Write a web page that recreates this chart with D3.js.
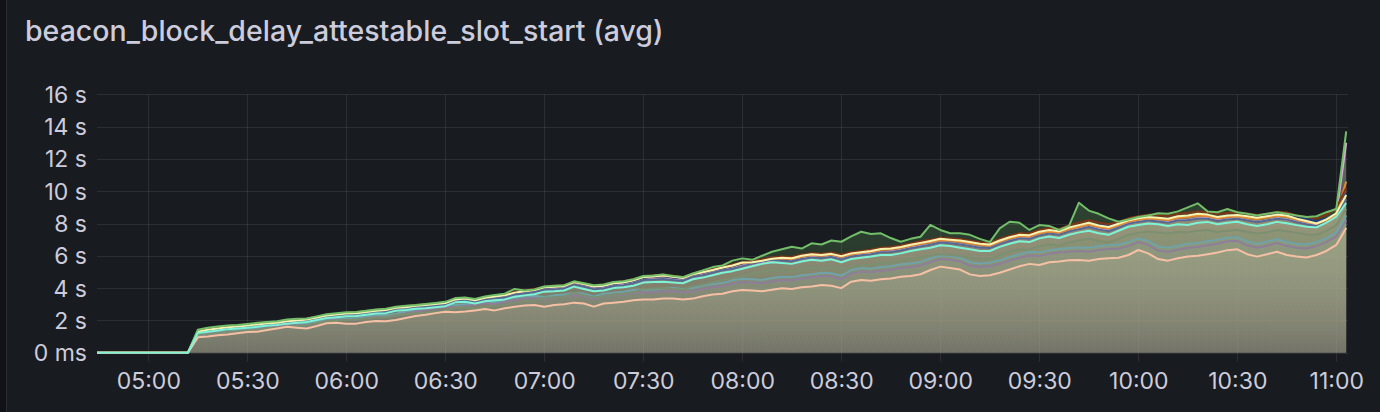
<!DOCTYPE html>
<html><head><meta charset="utf-8">
<script src="https://cdn.jsdelivr.net/npm/d3@7"></script>
<style>
html,body{margin:0;padding:0;background:#111217;}
svg{display:block;}
</style></head>
<body>
<svg id="chart" width="1380" height="412"></svg>
<script>
// ---------------- DATA ----------------
const chartTitle = "beacon_block_delay_attestable_slot_start (avg)";
const startTime = "04:42";   // first sample (UTC, HH:MM)
const stepMinutes = 3;       // sampling step
const yTickValues = [0, 2, 4, 6, 8, 10, 12, 14, 16];
const xTickLabels = ["05:00","05:30","06:00","06:30","07:00","07:30","08:00","08:30","09:00","09:30","10:00","10:30","11:00"];

const mauve = [0,0,0,0,0,0,0,0,0,0,0,
1.05,1.12,1.2,1.25,1.35,1.42,1.45,1.55,1.65,1.75,
1.72,1.68,1.82,2.0,2.05,2.02,2.05,2.15,2.22,2.2,
2.3,2.42,2.55,2.65,2.75,2.85,2.82,2.9,2.98,3.08,
3.0,3.15,3.25,3.32,3.38,3.3,3.4,3.45,3.55,3.5,
3.3,3.48,3.55,3.6,3.7,3.75,3.72,3.8,3.82,3.75,
3.8,3.95,4.05,4.12,4.28,4.38,4.35,4.3,4.42,4.5,
4.48,4.6,4.65,4.75,4.72,4.55,4.9,5.02,4.98,5.08,
5.12,5.25,5.3,5.4,5.62,5.8,5.75,5.65,5.38,5.3,
5.35,5.5,5.7,5.88,6.02,5.98,6.12,6.2,6.25,6.3,
6.25,6.35,6.42,6.45,6.6,6.85,6.68,6.32,6.25,6.38,
6.5,6.55,6.65,6.75,6.9,6.92,6.65,6.5,6.62,6.8,
6.6,6.5,6.45,6.6,6.85,7.2,8.2];

const teal = [0,0,0,0,0,0,0,0,0,0,0,
1.1,1.2,1.28,1.32,1.42,1.5,1.55,1.65,1.75,1.85,
1.82,1.78,1.92,2.1,2.15,2.12,2.15,2.25,2.32,2.32,
2.42,2.55,2.68,2.78,2.88,2.98,2.95,3.02,3.1,3.2,
3.12,3.28,3.4,3.48,3.52,3.45,3.55,3.6,3.7,3.66,
3.48,3.65,3.72,3.78,3.88,3.92,3.9,3.98,4.0,3.95,
4.0,4.15,4.25,4.32,4.48,4.58,4.55,4.5,4.62,4.7,
4.68,4.8,4.85,4.95,4.92,4.78,5.12,5.25,5.2,5.3,
5.35,5.48,5.52,5.62,5.85,6.02,5.98,5.88,5.6,5.52,
5.58,5.72,5.92,6.1,6.25,6.2,6.35,6.42,6.48,6.52,
6.5,6.6,6.65,6.7,6.85,7.08,6.92,6.58,6.5,6.62,
6.75,6.8,6.9,7.0,7.12,7.15,6.9,6.75,6.88,7.02,
6.85,6.75,6.7,6.85,7.1,7.45,8.5];

const grayGreen = [0,0,0,0,0,0,0,0,0,0,0,
1.1,1.15,1.22,1.28,1.32,1.38,1.42,1.5,1.55,1.62,
1.66,1.7,1.82,1.95,1.98,2.02,2.05,2.12,2.18,2.2,
2.32,2.38,2.45,2.48,2.52,2.58,2.8,2.82,2.72,2.85,
2.9,2.95,3.1,3.2,3.25,3.4,3.42,3.45,3.7,3.55,
3.42,3.48,3.6,3.65,3.75,3.95,3.98,4.0,3.95,3.9,
4.12,4.22,4.38,4.5,4.62,4.75,4.9,5.02,5.12,5.08,
5.02,5.18,5.28,5.22,5.3,5.12,5.32,5.4,5.45,5.55,
5.58,5.68,5.8,5.92,6.0,6.1,6.05,5.98,5.9,5.8,
5.8,6.05,6.25,6.4,6.38,6.6,6.72,6.62,6.82,6.95,
7.05,6.92,6.82,7.05,7.3,7.42,7.5,7.45,7.38,7.48,
7.45,7.55,7.6,7.48,7.55,7.6,7.48,7.38,7.45,7.6,
7.52,7.42,7.32,7.3,7.55,7.9,8.9];

const pink = [0,0,0,0,0,0,0,0,0,0,0,
1.26,1.37,1.45,1.52,1.57,1.62,1.68,1.76,1.8,1.88,
1.94,1.98,2.1,2.24,2.29,2.35,2.38,2.45,2.53,2.56,
2.7,2.75,2.82,2.86,2.93,2.99,3.22,3.26,3.17,3.3,
3.38,3.44,3.6,3.68,3.76,3.92,3.95,4.0,4.25,4.1,
3.96,4.0,4.16,4.2,4.32,4.52,4.56,4.6,4.53,4.48,
4.72,4.82,4.98,5.12,5.22,5.38,5.5,5.62,5.72,5.72,
5.68,5.82,5.92,5.88,5.95,5.8,5.98,6.06,6.12,6.24,
6.26,6.36,6.5,6.6,6.7,6.84,6.8,6.72,6.62,6.52,
6.5,6.74,6.94,7.1,7.08,7.28,7.4,7.32,7.52,7.68,
7.8,7.65,7.55,7.76,8.0,8.12,8.2,8.14,8.08,8.2,
8.22,8.32,8.32,8.18,8.27,8.32,8.2,8.1,8.2,8.32,
8.26,8.1,7.98,7.9,8.15,8.55,13.0];

const navy = [0,0,0,0,0,0,0,0,0,0,0,
1.28,1.4,1.48,1.56,1.6,1.66,1.72,1.8,1.84,1.92,
1.98,2.02,2.15,2.27,2.33,2.4,2.42,2.5,2.57,2.61,
2.75,2.8,2.87,2.92,2.99,3.05,3.27,3.32,3.22,3.37,
3.45,3.52,3.68,3.77,3.85,4.02,4.05,4.1,4.34,4.22,
4.08,4.12,4.27,4.32,4.45,4.64,4.7,4.75,4.66,4.6,
4.82,4.95,5.1,5.25,5.38,5.55,5.58,5.68,5.8,5.86,
5.82,5.97,6.07,6.02,6.1,5.95,6.12,6.2,6.28,6.4,
6.42,6.52,6.65,6.78,6.9,7.02,6.98,6.92,6.82,6.72,
6.68,6.92,7.12,7.28,7.25,7.46,7.58,7.5,7.72,7.88,
8.02,7.92,7.86,8.02,8.22,8.3,8.38,8.32,8.28,8.42,
8.48,8.58,8.52,8.38,8.48,8.5,8.42,8.36,8.48,8.6,
8.58,8.45,8.3,8.15,8.3,8.6,9.9];

const slate = [0,0,0,0,0,0,0,0,0,0,0,
1.25,1.35,1.42,1.5,1.55,1.6,1.66,1.74,1.78,1.86,
1.92,1.96,2.08,2.22,2.27,2.32,2.35,2.42,2.5,2.53,
2.68,2.72,2.8,2.84,2.9,2.96,3.2,3.24,3.14,3.28,
3.35,3.4,3.58,3.66,3.74,3.9,3.92,3.97,4.22,4.08,
3.93,3.98,4.13,4.18,4.3,4.5,4.53,4.57,4.5,4.45,
4.7,4.8,4.95,5.1,5.2,5.36,5.5,5.65,5.75,5.7,
5.66,5.8,5.9,5.86,5.93,5.78,5.96,6.04,6.1,6.22,
6.24,6.33,6.47,6.58,6.68,6.82,6.78,6.7,6.6,6.5,
6.48,6.72,6.92,7.08,7.05,7.26,7.38,7.3,7.5,7.65,
7.78,7.62,7.52,7.74,7.98,8.1,8.18,8.12,8.05,8.18,
8.2,8.3,8.3,8.15,8.25,8.3,8.18,8.08,8.18,8.3,
8.24,8.08,7.95,7.85,8.12,8.5,9.5];

const orange = [0,0,0,0,0,0,0,0,0,0,0,
1.34,1.47,1.56,1.64,1.68,1.74,1.8,1.86,1.9,2.0,
2.05,2.1,2.2,2.34,2.4,2.46,2.5,2.56,2.64,2.68,
2.8,2.86,2.93,2.98,3.05,3.1,3.32,3.37,3.28,3.42,
3.5,3.58,3.74,3.82,3.9,4.06,4.1,4.14,4.36,4.26,
4.12,4.17,4.32,4.38,4.5,4.68,4.74,4.8,4.72,4.64,
4.86,4.98,5.12,5.28,5.4,5.56,5.6,5.72,5.84,5.84,
5.8,5.95,6.05,6.0,6.08,5.94,6.1,6.18,6.25,6.38,
6.4,6.5,6.62,6.74,6.86,6.98,6.94,6.88,6.78,6.68,
6.64,6.88,7.08,7.22,7.2,7.4,7.5,7.44,7.66,7.8,
7.95,7.8,7.7,7.9,8.12,8.24,8.32,8.28,8.22,8.36,
8.4,8.5,8.46,8.32,8.42,8.45,8.36,8.28,8.38,8.48,
8.42,8.24,8.1,7.98,8.2,8.55,10.6];

const brown = [0,0,0,0,0,0,0,0,0,0,0,
1.32,1.45,1.55,1.62,1.66,1.72,1.8,1.88,1.92,2.0,
2.05,2.1,2.22,2.34,2.4,2.46,2.5,2.58,2.66,2.7,
2.82,2.88,2.95,3.0,3.06,3.12,3.35,3.4,3.3,3.45,
3.52,3.6,3.76,3.86,3.94,4.1,4.14,4.18,4.4,4.3,
4.16,4.22,4.36,4.42,4.55,4.72,4.78,4.84,4.76,4.68,
4.9,5.04,5.18,5.34,5.46,5.62,5.66,5.78,5.9,5.96,
5.92,6.08,6.16,6.12,6.2,6.06,6.22,6.3,6.38,6.5,
6.54,6.64,6.76,6.9,7.0,7.12,7.08,7.04,6.94,6.84,
6.8,7.04,7.24,7.4,7.38,7.6,7.72,7.66,7.9,8.05,
8.2,8.05,7.95,8.1,8.32,8.45,8.55,8.5,8.45,8.6,
8.65,8.75,8.7,8.58,8.66,8.7,8.62,8.52,8.6,8.72,
8.68,8.5,8.4,8.3,8.55,8.96,10.2];

const yellow = [0,0,0,0,0,0,0,0,0,0,0,
1.3,1.42,1.5,1.58,1.62,1.68,1.75,1.82,1.86,1.95,
2.0,2.05,2.18,2.3,2.36,2.42,2.45,2.52,2.6,2.64,
2.78,2.82,2.9,2.95,3.02,3.08,3.3,3.35,3.25,3.4,
3.48,3.55,3.72,3.8,3.88,4.05,4.08,4.12,4.38,4.25,
4.1,4.15,4.3,4.35,4.48,4.68,4.72,4.78,4.7,4.62,
4.85,4.98,5.12,5.28,5.4,5.58,5.6,5.7,5.82,5.88,
5.85,6.0,6.1,6.05,6.12,5.98,6.15,6.22,6.3,6.42,
6.45,6.55,6.68,6.8,6.92,7.05,7.0,6.95,6.85,6.75,
6.7,6.95,7.15,7.3,7.28,7.49,7.6,7.52,7.75,7.9,
8.05,7.88,7.78,7.98,8.2,8.32,8.4,8.35,8.3,8.45,
8.5,8.6,8.55,8.4,8.5,8.53,8.45,8.35,8.45,8.55,
8.5,8.3,8.15,8.0,8.25,8.63,9.77];

const green = [0,0,0,0,0,0,0,0,0,0,0,
1.42,1.55,1.62,1.68,1.72,1.78,1.85,1.9,1.95,2.05,
2.1,2.12,2.25,2.38,2.45,2.5,2.52,2.6,2.68,2.72,
2.85,2.9,2.95,3.02,3.08,3.15,3.38,3.42,3.32,3.48,
3.58,3.65,3.95,3.85,3.92,4.1,4.15,4.18,4.42,4.3,
4.18,4.22,4.38,4.42,4.55,4.75,4.78,4.85,4.75,4.68,
4.9,5.1,5.3,5.4,5.7,5.84,5.75,6.0,6.25,6.4,
6.56,6.45,6.77,6.7,6.95,6.87,7.2,7.49,7.35,7.39,
7.1,6.87,7.05,7.18,7.91,7.6,7.4,7.39,7.3,7.05,
6.85,7.7,8.11,8.05,7.6,7.9,7.85,7.6,7.85,9.29,
8.8,8.6,8.32,8.11,8.25,8.4,8.5,8.63,8.6,8.75,
9.0,9.25,8.75,8.7,8.9,8.7,8.6,8.5,8.6,8.7,
8.6,8.5,8.4,8.45,8.7,8.9,13.7];

const peach = [0,0,0,0,0,0,0,0,0,0,0,
0.95,1.0,1.08,1.12,1.2,1.28,1.3,1.4,1.5,1.6,
1.55,1.5,1.65,1.82,1.85,1.8,1.8,1.9,1.96,1.95,
2.02,2.15,2.27,2.35,2.45,2.54,2.5,2.55,2.62,2.7,
2.62,2.75,2.85,2.92,2.95,2.85,2.95,3.0,3.1,3.05,
2.85,3.05,3.1,3.15,3.25,3.3,3.3,3.35,3.35,3.3,
3.35,3.5,3.6,3.65,3.8,3.88,3.85,3.8,3.9,3.99,
3.95,4.05,4.1,4.19,4.15,4.0,4.4,4.5,4.45,4.55,
4.6,4.7,4.75,4.86,5.12,5.33,5.25,5.15,4.85,4.75,
4.8,4.95,5.15,5.35,5.5,5.43,5.6,5.65,5.72,5.74,
5.7,5.8,5.85,5.88,6.05,6.36,6.15,5.8,5.7,5.85,
5.95,6.0,6.1,6.2,6.35,6.4,6.1,5.95,6.1,6.25,
6.05,5.95,5.9,6.05,6.3,6.67,7.72];

const mint = [0,0,0,0,0,0,0,0,0,0,0,
1.22,1.3,1.38,1.45,1.5,1.55,1.6,1.68,1.72,1.8,
1.85,1.9,2.02,2.15,2.2,2.25,2.27,2.35,2.42,2.45,
2.6,2.65,2.72,2.75,2.82,2.88,3.12,3.15,3.05,3.18,
3.25,3.3,3.47,3.55,3.62,3.78,3.8,3.85,4.09,3.95,
3.8,3.85,4.0,4.05,4.15,4.34,4.38,4.4,4.35,4.3,
4.55,4.65,4.8,4.95,5.05,5.2,5.35,5.5,5.6,5.55,
5.5,5.65,5.75,5.7,5.78,5.6,5.8,5.88,5.95,6.05,
6.05,6.15,6.3,6.4,6.5,6.65,6.6,6.5,6.4,6.3,
6.3,6.55,6.75,6.9,6.85,7.08,7.2,7.1,7.3,7.45,
7.55,7.4,7.3,7.55,7.8,7.91,8.0,7.95,7.85,7.95,
7.91,8.05,8.1,7.95,8.05,8.11,7.95,7.85,7.95,8.1,
8.01,7.9,7.8,7.76,8.05,8.42,9.27];

// series + colours; lines drawn in this order (later = on top)
const seriesValues = [mauve, teal, grayGreen, pink, navy, slate, orange, brown, yellow, green, peach, mint];
const seriesColors = ["#8e7e9a", "#6fa3a8", "#7c8f70", "#e3a6e4", "#23407e", "#55698f", "#e8892e", "#7e3516", "#f6f2b0", "#73bf69", "#f6c0a4", "#7ff3d6"];
// order in which the translucent fills are stacked (indices into seriesValues)
const fillOrder = [11, 4, 7, 5, 1, 6, 3, 10, 0, 8, 2, 9];

// ---------------- CHART ----------------
const W = 1380, H = 412;
const svg = d3.select("#chart");
const bg = "#181b1f", textCol = "#ccccdc";

svg.append("rect").attr("x", 0).attr("y", 0).attr("width", W).attr("height", H).attr("fill", "#111217");
svg.append("rect").attr("x", 7).attr("y", 0).attr("width", W - 7).attr("height", H).attr("fill", bg);
svg.append("line").attr("x1", 6.5).attr("x2", 6.5).attr("y1", 0).attr("y2", H)
  .attr("stroke", "rgba(204,204,220,0.15)").attr("stroke-width", 1);

const parse = d3.utcParse("%Y-%m-%d %H:%M");
const t0 = parse("2024-01-01 " + startTime);
const times = mint.map((_, i) => d3.utcMinute.offset(t0, i * stepMinutes));

const plotL = 97, plotR = 1348, plotT = 94.3, plotB = 352.7;
const domStart = d3.utcSecond.offset(parse("2024-01-01 05:00"), -933);
const domEnd = d3.utcSecond.offset(parse("2024-01-01 11:00"), 213);
const x = d3.scaleUtc().domain([domStart, domEnd]).range([plotL, plotR]);
const y = d3.scaleLinear().domain([0, 16]).range([plotB, plotT]);

const fontFam = "Inter, 'Noto Sans', sans-serif";

// title
svg.append("text").attr("x", 25).attr("y", 41)
  .attr("fill", textCol).attr("font-family", fontFam).attr("font-size", 28.5).attr("font-weight", 500)
  .text(chartTitle);

// grid
const gridCol = "rgba(204,204,220,0.11)";
const xTickDates = xTickLabels.map(s => parse("2024-01-01 " + s));
const gx = svg.append("g");
gx.selectAll("line.v").data(xTickDates).join("line")
  .attr("x1", d => Math.round(x(d)) + 0.5).attr("x2", d => Math.round(x(d)) + 0.5)
  .attr("y1", plotT).attr("y2", plotB + 9)
  .attr("stroke", gridCol).attr("stroke-width", 1);
gx.selectAll("line.h").data(yTickValues).join("line")
  .attr("x1", plotL).attr("x2", plotR)
  .attr("y1", d => Math.round(y(d)) + 0.5).attr("y2", d => Math.round(y(d)) + 0.5)
  .attr("stroke", gridCol).attr("stroke-width", 1);

const yAxis = d3.axisLeft(y).tickValues(yTickValues).tickSize(0).tickPadding(0)
  .tickFormat(v => v === 0 ? "0 ms" : v + " s");
const ya = svg.append("g").attr("transform", `translate(${plotL - 10},0)`).call(yAxis);
ya.select(".domain").remove();
ya.selectAll("text").attr("fill", textCol).attr("font-family", fontFam).attr("font-size", 23).attr("dy", "0.35em");

const xFmt = d3.utcFormat("%H:%M");
const xAxis = d3.axisBottom(x).tickValues(xTickDates).tickSize(0).tickPadding(0).tickFormat(xFmt);
const xa = svg.append("g").attr("transform", `translate(0,${plotB + 28})`).call(xAxis);
xa.select(".domain").remove();
xa.selectAll("text").attr("fill", textCol).attr("font-family", fontFam).attr("font-size", 23).attr("dy", "0.35em");

// gradients for fills (more opaque towards the top of the plot)
const defs = svg.append("defs");
seriesColors.forEach((c, i) => {
  const g = defs.append("linearGradient").attr("id", "fillGrad" + i)
    .attr("gradientUnits", "userSpaceOnUse")
    .attr("x1", 0).attr("x2", 0).attr("y1", plotT).attr("y2", plotB);
  g.append("stop").attr("offset", 0).attr("stop-color", c).attr("stop-opacity", 0.36);
  g.append("stop").attr("offset", 1).attr("stop-color", c).attr("stop-opacity", 0.09);
});

defs.append("clipPath").attr("id", "clip").append("rect")
  .attr("x", plotL).attr("y", 0).attr("width", plotR - plotL).attr("height", plotB + 1);

const plot = svg.append("g").attr("clip-path", "url(#clip)");

const area = d3.area().x((d, i) => x(times[i])).y0(y(0)).y1(d => y(d));
const line = d3.line().x((d, i) => x(times[i])).y(d => y(d));

plot.selectAll("path.area").data(fillOrder).join("path")
  .attr("class", "area")
  .attr("d", k => area(seriesValues[k]))
  .attr("fill", k => `url(#fillGrad${k})`);

plot.selectAll("path.line").data(seriesValues).join("path")
  .attr("class", "line")
  .attr("d", line)
  .attr("fill", "none")
  .attr("stroke", (d, i) => seriesColors[i])
  .attr("stroke-width", 2)
  .attr("stroke-linejoin", "round");
</script>
</body></html>
